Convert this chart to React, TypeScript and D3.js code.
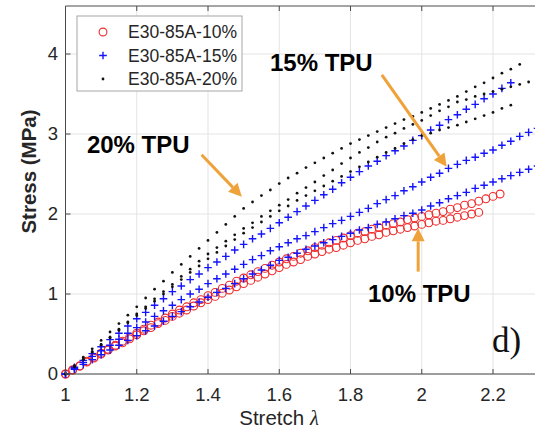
import React from 'react';
import * as d3 from 'd3';

const W = 535;
const H = 431;

// Axis ticks
const stretchTicks = [1, 1.2, 1.4, 1.6, 1.8, 2, 2.2];
const stressTicks = [0, 1, 2, 3, 4];

// Samples start at stretch 1 and are recorded at a fixed stretch interval per test
const stretchStart = 1;
const stepTpu10 = 0.02;
const stepTpu15 = 0.025;
const stepTpu20 = 0.025;

// Stress (MPa), E30-85A-10%
const tpu10Run1 = [
  0.0, 0.05, 0.1, 0.16, 0.21, 0.26, 0.31, 0.36, 0.41, 0.46,
  0.51, 0.56, 0.61, 0.65, 0.7, 0.75, 0.8, 0.84, 0.89, 0.93,
  0.98, 1.02, 1.07, 1.11, 1.16, 1.2, 1.24, 1.28, 1.32, 1.36,
  1.4, 1.44, 1.47, 1.51, 1.54, 1.58, 1.61, 1.64, 1.67, 1.7,
  1.73, 1.76, 1.78, 1.81, 1.83, 1.86, 1.88, 1.9, 1.93, 1.95,
  1.97, 1.99, 2.01, 2.03, 2.06, 2.08, 2.11, 2.13, 2.16, 2.19,
  2.22, 2.25,
];
const tpu10Run2 = [
  0.0, 0.05, 0.1, 0.15, 0.2, 0.25, 0.3, 0.35, 0.39, 0.44,
  0.49, 0.54, 0.58, 0.63, 0.67, 0.72, 0.76, 0.8, 0.85, 0.89,
  0.93, 0.97, 1.01, 1.05, 1.09, 1.13, 1.17, 1.21, 1.25, 1.29,
  1.33, 1.37, 1.4, 1.43, 1.47, 1.5, 1.53, 1.56, 1.58, 1.61,
  1.64, 1.67, 1.69, 1.72, 1.74, 1.77, 1.79, 1.81, 1.83, 1.85,
  1.87, 1.89, 1.91, 1.92, 1.94, 1.96, 1.98, 2.0, 2.02,
];

// Stress (MPa), E30-85A-15%
const tpu15Run1 = [
  0.0, 0.085, 0.17, 0.255, 0.34, 0.43, 0.51, 0.6, 0.69, 0.77,
  0.86, 0.94, 1.03, 1.1, 1.18, 1.25, 1.33, 1.4, 1.47, 1.55,
  1.62, 1.69, 1.75, 1.82, 1.89, 1.96, 2.03, 2.1, 2.17, 2.24,
  2.31, 2.39, 2.46, 2.53, 2.6, 2.66, 2.73, 2.79, 2.85, 2.92,
  2.98, 3.05, 3.11, 3.18, 3.24, 3.31, 3.37, 3.44, 3.5, 3.57,
  3.64,
];
const tpu15Run2 = [
  0.0, 0.07, 0.145, 0.22, 0.29, 0.36, 0.435, 0.51, 0.58, 0.65,
  0.72, 0.79, 0.86, 0.93, 1.0, 1.06, 1.13, 1.19, 1.25, 1.31,
  1.37, 1.43, 1.48, 1.54, 1.59, 1.64, 1.69, 1.73, 1.78, 1.83,
  1.88, 1.92, 1.97, 2.02, 2.07, 2.13, 2.18, 2.23, 2.29, 2.34,
  2.4, 2.46, 2.51, 2.57, 2.62, 2.67, 2.71, 2.76, 2.8, 2.86,
  2.91, 2.97, 3.02, 3.07,
];
const tpu15Run3 = [
  0.0, 0.06, 0.12, 0.18, 0.24, 0.3, 0.36, 0.42, 0.48, 0.54,
  0.6, 0.66, 0.72, 0.78, 0.84, 0.9, 0.96, 1.02, 1.07, 1.13,
  1.19, 1.25, 1.3, 1.36, 1.42, 1.46, 1.51, 1.56, 1.6, 1.64,
  1.68, 1.72, 1.76, 1.8, 1.83, 1.87, 1.9, 1.94, 1.98, 2.01,
  2.05, 2.1, 2.14, 2.19, 2.23, 2.27, 2.32, 2.36, 2.4, 2.44,
  2.48, 2.52, 2.56, 2.6,
];

// Stress (MPa), E30-85A-20%
const tpu20Run1 = [
  0.0, 0.105, 0.21, 0.315, 0.42, 0.525, 0.63, 0.735, 0.84, 0.95,
  1.06, 1.16, 1.27, 1.37, 1.47, 1.57, 1.67, 1.77, 1.87, 1.97,
  2.07, 2.15, 2.23, 2.3, 2.38, 2.45, 2.51, 2.58, 2.64, 2.7,
  2.76, 2.82, 2.88, 2.93, 2.98, 3.03, 3.08, 3.13, 3.18, 3.22,
  3.27, 3.32, 3.37, 3.42, 3.47, 3.53, 3.59, 3.64, 3.7, 3.76,
  3.81, 3.87,
];
const tpu20Run2 = [
  0.0, 0.09, 0.185, 0.28, 0.37, 0.46, 0.56, 0.65, 0.75, 0.84,
  0.94, 1.03, 1.12, 1.22, 1.31, 1.41, 1.5, 1.58, 1.66, 1.74,
  1.82, 1.89, 1.97, 2.04, 2.11, 2.18, 2.26, 2.33, 2.4, 2.48,
  2.55, 2.63, 2.7, 2.77, 2.83, 2.9, 2.96, 3.01, 3.07, 3.12,
  3.17, 3.23, 3.29, 3.34, 3.4, 3.43, 3.47, 3.5, 3.53, 3.56,
  3.59, 3.62, 3.65,
];
const tpu20Run3 = [
  0.0, 0.09, 0.18, 0.27, 0.36, 0.45, 0.545, 0.64, 0.73, 0.82,
  0.91, 1.0, 1.09, 1.18, 1.27, 1.35, 1.44, 1.52, 1.6, 1.68,
  1.76, 1.83, 1.9, 1.97, 2.04, 2.1, 2.17, 2.23, 2.29, 2.35,
  2.41, 2.47, 2.53, 2.59, 2.65, 2.71, 2.77, 2.82, 2.88, 2.93,
  2.98, 3.01, 3.05, 3.08, 3.11, 3.15, 3.19, 3.23, 3.27, 3.32,
  3.36,
];

const seriesNames = ['E30-85A-10%', 'E30-85A-15%', 'E30-85A-20%'];

// Callouts: text anchor and arrow tail/tip in data units (stretch, stress)
const calloutLabels = ['20% TPU', '15% TPU', '10% TPU'];
const calloutText = [[1.06, 2.76], [1.574, 3.79], [1.849, 0.904]];
const calloutTail = [[1.382, 2.74], [1.888, 3.74], [1.99, 1.28]];
const calloutTip = [[1.495, 2.216], [2.07, 2.59], [1.99, 1.821]];

type Marker = 'circle' | 'plus' | 'dot';
const series: { name: string; marker: Marker; step: number; runs: number[][] }[] = [
  { name: seriesNames[0], marker: 'circle', step: stepTpu10, runs: [tpu10Run1, tpu10Run2] },
  { name: seriesNames[1], marker: 'plus', step: stepTpu15, runs: [tpu15Run1, tpu15Run2, tpu15Run3] },
  { name: seriesNames[2], marker: 'dot', step: stepTpu20, runs: [tpu20Run1, tpu20Run2, tpu20Run3] },
];

const SANS = '"Liberation Sans", Arial, Helvetica, sans-serif';
const SERIF = '"Liberation Serif", "Times New Roman", serif';
const RED = '#f02a2a';
const BLUE = '#1414ff';
const ORANGE = '#f0a23a';
const TEXT = '#262626';

function MarkerGlyph({ kind, x, y }: { kind: Marker; x: number; y: number }) {
  if (kind === 'circle')
    return <circle cx={x} cy={y} r={3.9} fill="none" stroke={RED} strokeWidth={1.1} />;
  if (kind === 'plus')
    return (
      <path
        d={`M${x - 3.8},${y}H${x + 3.8}M${x},${y - 3.8}V${y + 3.8}`}
        stroke={BLUE}
        strokeWidth={1.4}
        fill="none"
      />
    );
  return <circle cx={x} cy={y} r={1.4} fill="#111" />;
}

export default function App() {
  // The axes run on to stretch 2.4; the page edge cuts them just past 2.3
  const x = d3.scaleLinear().domain([1, 2.4]).range([65.5, 65.5 + 1.4 * 356.25]);
  const y = d3.scaleLinear().domain([0, 4.6]).range([374, 6]);
  const [x0, x1] = x.range();
  const [yb, yt] = y.range();

  return (
    <svg
      width={W}
      height={H}
      viewBox={`0 0 ${W} ${H}`}
      style={{ position: 'absolute', left: 0, top: 0, background: '#fff' }}
    >
      <rect x={0} y={0} width={W} height={H} fill="#fff" />
      {/* grid */}
      {stretchTicks.map((t) => (
        <line key={`gx${t}`} x1={x(t)} x2={x(t)} y1={yt} y2={yb} stroke="#e3e3e3" strokeWidth={1} />
      ))}
      {stressTicks.map((t) => (
        <line key={`gy${t}`} x1={x0} x2={x1} y1={y(t)} y2={y(t)} stroke="#e3e3e3" strokeWidth={1} />
      ))}

      {/* data */}
      {series.map((s) =>
        s.runs.map((run, ri) => (
          <g key={`${s.name}-${ri}`}>
            {run.map((v, i) => (
              <MarkerGlyph key={i} kind={s.marker} x={x(stretchStart + i * s.step)} y={y(v)} />
            ))}
          </g>
        ))
      )}

      {/* axes box */}
      <line x1={x0} x2={x1} y1={yb} y2={yb} stroke="#4a4a4a" strokeWidth={1} />
      <line x1={x0} x2={x1} y1={yt} y2={yt} stroke="#4a4a4a" strokeWidth={1} />
      <line x1={x0} x2={x0} y1={yt} y2={yb} stroke="#4a4a4a" strokeWidth={1} />
      {stretchTicks.map((t) => (
        <g key={`tx${t}`}>
          <line x1={x(t)} x2={x(t)} y1={yb} y2={yb - 5} stroke="#4a4a4a" />
          <line x1={x(t)} x2={x(t)} y1={yt} y2={yt + 5} stroke="#4a4a4a" />
          <text x={x(t)} y={401} textAnchor="middle" fontFamily={SANS} fontSize={18.5} fill={TEXT}>
            {String(t)}
          </text>
        </g>
      ))}
      {stressTicks.map((t) => (
        <g key={`ty${t}`}>
          <line x1={x0} x2={x0 + 5} y1={y(t)} y2={y(t)} stroke="#4a4a4a" />
          <text
            x={58}
            y={y(t)}
            dy="0.35em"
            textAnchor="end"
            fontFamily={SANS}
            fontSize={18.5}
            fill={TEXT}
          >
            {String(t)}
          </text>
        </g>
      ))}

      {/* axis titles */}
      <text x={279} y={425} textAnchor="middle" fontFamily={SANS} fontSize={20.5} fill={TEXT}>
        Stretch{' '}
        <tspan fontFamily={SERIF} fontStyle="italic">
          λ
        </tspan>
      </text>
      <text
        transform="translate(36,171.5) rotate(-90)"
        textAnchor="middle"
        fontFamily={SANS}
        fontSize={20.5}
        fontWeight="bold"
        fill={TEXT}
      >
        Stress (MPa)
      </text>

      {/* callouts */}
      {calloutLabels.map((label, i) => {
        const tx = x(calloutTail[i][0]);
        const ty = y(calloutTail[i][1]);
        const hx = x(calloutTip[i][0]);
        const hy = y(calloutTip[i][1]);
        const ang = Math.atan2(hy - ty, hx - tx);
        const headLen = 13;
        const headHalf = 6.5;
        const bx = hx - headLen * Math.cos(ang);
        const by = hy - headLen * Math.sin(ang);
        const px = -Math.sin(ang) * headHalf;
        const py = Math.cos(ang) * headHalf;
        return (
          <g key={label}>
            <line x1={tx} y1={ty} x2={bx} y2={by} stroke={ORANGE} strokeWidth={3} />
            <polygon
              points={`${hx},${hy} ${bx + px},${by + py} ${bx - px},${by - py}`}
              fill={ORANGE}
            />
            <text
              x={x(calloutText[i][0])}
              y={y(calloutText[i][1])}
              fontFamily={SANS}
              fontSize={24}
              fontWeight="bold"
              fill="#000"
            >
              {label}
            </text>
          </g>
        );
      })}

      <text x={492} y={352} fontFamily={SERIF} fontSize={35} fill="#111">
        d)
      </text>

      {/* legend */}
      <rect x={77} y={16} width={165} height={75} fill="#fff" stroke="#a6a6a6" strokeWidth={1} />
      {series.map((s, i) => {
        const ly = 32 + i * 23.5;
        return (
          <g key={`lg${s.name}`}>
            <MarkerGlyph kind={s.marker} x={103} y={ly} />
            <text x={128} y={ly} dy="0.36em" fontFamily={SANS} fontSize={17.5} fill={TEXT}>
              {s.name}
            </text>
          </g>
        );
      })}
    </svg>
  );
}
